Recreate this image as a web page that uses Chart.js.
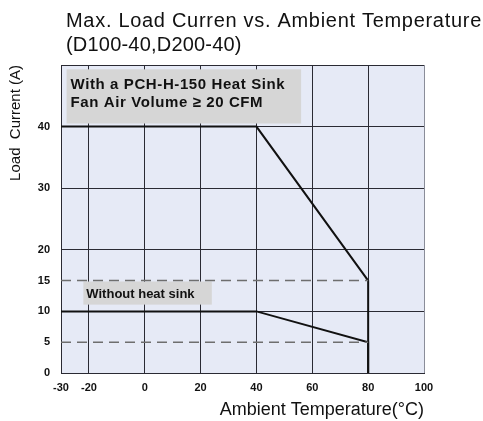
<!DOCTYPE html>
<html>
<head>
<meta charset="utf-8">
<script src="https://cdn.jsdelivr.net/npm/chart.js@4.4.1/dist/chart.umd.min.js"></script>
<style>
  body { margin: 0; background: #fff; }
  #wrap { width: 483px; height: 421px; position: relative; }
</style>
</head>
<body>
<div id="wrap"><canvas id="chart"></canvas></div>
<script>
// values
const tempWithSink = [-30, 40, 80, 80];
const currentWithSink = [40, 40, 15, 0];
const tempNoSink = [-30, 40, 80, 80];
const currentNoSink = [10, 10, 5, 0];
const refTemps = [-30, 80];
const refHigh = [15, 15];
const refLow = [5, 5];

const xTicks = [-30, -20, 0, 20, 40, 60, 80, 100];
const yTicks = [0, 5, 10, 15, 20, 30, 40, 50];
const yHiddenGrid = [5, 15];   // these levels only have the dashed guide lines

const titleLines = ['Max. Load Curren vs. Ambient Temperature', '(D100-40,D200-40)'];
const noteWithSink = ['With a PCH-H-150 Heat Sink', 'Fan Air Volume \u2265 20 CFM'];
const noteNoSink = ['Without heat sink'];

const FONT = '"Liberation Sans", Arial, sans-serif';

function pts(xs, ys) {
  return xs.map((x, i) => ({ x: x, y: ys[i] }));
}

// gray note boxes, given in data units so they follow the scales
const notes = [
  { x0: -28, x1: 56, y0: 40.5, y1: 49.3, lines: noteWithSink, font: 'bold 15px ' + FONT, spacing: '0.6px', pad: 4, first: 20, step: 18 },
  { x0: -22, x1: 24, y0: 11.1, y1: 14.85, lines: noteNoSink, font: 'bold 13px ' + FONT, spacing: '0px', pad: 3, first: 16, step: 16 }
];

const extras = {
  id: 'extras',
  beforeDraw(chart) {
    const { ctx, chartArea: a } = chart;
    ctx.save();
    ctx.fillStyle = '#e6eaf6';
    ctx.fillRect(a.left, a.top, a.right - a.left, a.bottom - a.top);
    ctx.restore();
  },
  beforeDatasetsDraw(chart) {
    const { ctx, scales: { x, y } } = chart;
    ctx.save();
    notes.forEach(n => {
      const left = x.getPixelForValue(n.x0);
      const right = x.getPixelForValue(n.x1);
      const top = y.getPixelForValue(n.y1);
      const bottom = y.getPixelForValue(n.y0);
      ctx.fillStyle = '#d6d6d6';
      ctx.fillRect(left, top, right - left, bottom - top);
      ctx.fillStyle = '#111';
      ctx.font = n.font;
      ctx.letterSpacing = n.spacing;
      ctx.textBaseline = 'alphabetic';
      n.lines.forEach((t, i) => ctx.fillText(t, left + n.pad, top + n.first + i * n.step));
    });
    ctx.restore();
  },
  afterDraw(chart) {
    const ctx = chart.ctx;
    ctx.save();
    ctx.fillStyle = '#111';
    ctx.font = '20px ' + FONT;
    ctx.textBaseline = 'alphabetic';
    ctx.letterSpacing = '0.7px';
    ctx.fillText(titleLines[0], 66, 27);
    ctx.letterSpacing = '0.2px';
    ctx.fillText(titleLines[1], 66, 51);
    ctx.restore();
  }
};

new Chart(document.getElementById('chart'), {
  type: 'line',
  data: {
    datasets: [
      {
        label: 'Guide 15A',
        data: pts(refTemps, refHigh),
        borderColor: '#6e6e6e',
        borderWidth: 1.5,
        borderDash: [10, 6],
        pointRadius: 0
      },
      {
        label: 'Guide 5A',
        data: pts(refTemps, refLow),
        borderColor: '#6e6e6e',
        borderWidth: 1.5,
        borderDash: [10, 6],
        pointRadius: 0
      },
      {
        label: 'With heat sink',
        data: pts(tempWithSink, currentWithSink),
        borderColor: '#111',
        borderWidth: 2,
        pointRadius: 0
      },
      {
        label: 'Without heat sink',
        data: pts(tempNoSink, currentNoSink),
        borderColor: '#111',
        borderWidth: 2,
        pointRadius: 0
      }
    ]
  },
  options: {
    responsive: true,
    maintainAspectRatio: false,
    animation: false,
    layout: { padding: { top: 65, right: 59, left: 0, bottom: 0 } },
    plugins: {
      legend: { display: false },
      tooltip: { enabled: false }
    },
    scales: {
      x: {
        type: 'linear',
        min: -30,
        max: 100,
        afterBuildTicks: s => { s.ticks = xTicks.map(v => ({ value: v })); },
        afterFit: s => { s.height = 48; },
        grid: {
          drawTicks: false,
          lineWidth: 1,
          color: c => c.tick && c.tick.value === 100 ? '#8a8d99' : '#2a2a33'
        },
        border: { color: '#2a2a33' },
        ticks: {
          autoSkip: false,
          maxRotation: 0,
          padding: 8,
          color: '#111',
          font: { family: FONT, size: 11, weight: 'bold' }
        },
        title: {
          display: true,
          text: 'Ambient Temperature(\u00b0C)',
          align: 'end',
          color: '#111',
          font: { family: FONT, size: 18 },
          padding: { top: 0, bottom: 0 }
        }
      },
      y: {
        min: 0,
        max: 50,
        afterBuildTicks: s => { s.ticks = yTicks.map(v => ({ value: v })); },
        afterFit: s => { s.width = 61; },
        grid: {
          drawTicks: false,
          lineWidth: 1,
          color: c => c.tick && yHiddenGrid.includes(c.tick.value) ? 'rgba(0,0,0,0)' : '#2a2a33'
        },
        border: { color: '#2a2a33' },
        ticks: {
          autoSkip: false,
          padding: 11,
          color: '#111',
          font: { family: FONT, size: 11, weight: 'bold' },
          callback: v => (v === 50 ? '' : v)
        },
        title: {
          display: true,
          text: 'Load  Current (A)',
          align: 'end',
          color: '#111',
          font: { family: FONT, size: 15 },
          padding: { top: 7, bottom: 0 }
        }
      }
    }
  },
  plugins: [extras]
});
</script>
</body>
</html>
